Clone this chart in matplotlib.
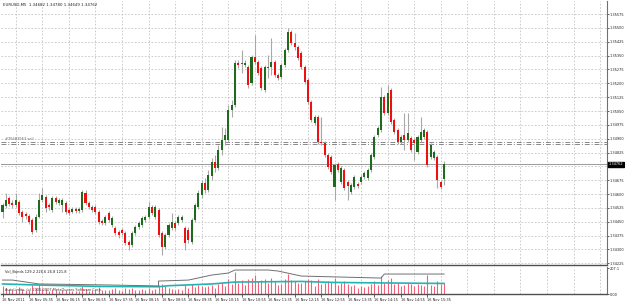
import matplotlib
matplotlib.use("Agg")
import matplotlib.pyplot as plt
from matplotlib.transforms import blended_transform_factory

# header / labels
symbol_title = "EURUSD,M5  1.34682 1.34780 1.34649 1.34762"
vol_title = "Vol_Bands 129.2 226.6 26.8 121.8"
vol_footer = "AutoLimits, (c) 2005-2007 MetaQuotes Software Corp."
order_label = "#76683953 sell"

# M5 candles, 16 Nov 2011
opens = [1.34503, 1.34535, 1.34579, 1.34552, 1.34541, 1.34557, 1.34503, 1.34492, 1.34481, 1.34460,
         1.34406, 1.34476, 1.34568, 1.34584, 1.34541, 1.34514, 1.34579, 1.34552, 1.34541, 1.34552,
         1.34514, 1.34503, 1.34519, 1.34508, 1.34514, 1.34606, 1.34552, 1.34530, 1.34530, 1.34503,
         1.34454, 1.34443, 1.34498, 1.34432, 1.34416, 1.34395, 1.34406, 1.34389, 1.34341, 1.34324,
         1.34389, 1.34422, 1.34432, 1.34460, 1.34476, 1.34530, 1.34476, 1.34514, 1.34389, 1.34313,
         1.34378, 1.34416, 1.34443, 1.34443, 1.34460, 1.34416, 1.34406, 1.34341, 1.34460, 1.34530,
         1.34595, 1.34660, 1.34622, 1.34698, 1.34774, 1.34741, 1.34839, 1.34893, 1.34893, 1.35055,
         1.35082, 1.35310, 1.35310, 1.35299, 1.35288, 1.35202, 1.35342, 1.35315, 1.35283, 1.35164,
         1.35288, 1.35288, 1.35315, 1.35245, 1.35234, 1.35299, 1.35380, 1.35478, 1.35418, 1.35396,
         1.35364, 1.35288, 1.35218, 1.35099, 1.34985, 1.35017, 1.34882, 1.34877, 1.34812, 1.34801,
         1.34638, 1.34763, 1.34666, 1.34730, 1.34666, 1.34611, 1.34638, 1.34655, 1.34666, 1.34693,
         1.34687, 1.34730, 1.34801, 1.34920, 1.34947, 1.35126, 1.35039, 1.35164, 1.35001, 1.34947,
         1.34882, 1.34920, 1.34893, 1.34904, 1.34893, 1.34828, 1.34893, 1.34909, 1.34936, 1.34801,
         1.34795, 1.34801, 1.34666, 1.34682]
highs = [1.34552, 1.34606, 1.34590, 1.34568, 1.34606, 1.34568, 1.34514, 1.34503, 1.34492, 1.34470,
         1.34492, 1.34606, 1.34633, 1.34595, 1.34552, 1.34590, 1.34590, 1.34579, 1.34579, 1.34563,
         1.34525, 1.34530, 1.34530, 1.34530, 1.34622, 1.34622, 1.34563, 1.34541, 1.34541, 1.34514,
         1.34465, 1.34487, 1.34508, 1.34481, 1.34427, 1.34406, 1.34416, 1.34400, 1.34351, 1.34400,
         1.34432, 1.34454, 1.34481, 1.34487, 1.34557, 1.34541, 1.34541, 1.34525, 1.34400, 1.34389,
         1.34443, 1.34498, 1.34454, 1.34487, 1.34487, 1.34427, 1.34422, 1.34470, 1.34552, 1.34622,
         1.34676, 1.34687, 1.34730, 1.34795, 1.34812, 1.34866, 1.34963, 1.34958, 1.35082, 1.35110,
         1.35326, 1.35326, 1.35380, 1.35326, 1.35299, 1.35353, 1.35461, 1.35326, 1.35294, 1.35299,
         1.35353, 1.35445, 1.35326, 1.35256, 1.35310, 1.35391, 1.35499, 1.35489, 1.35472, 1.35407,
         1.35375, 1.35299, 1.35229, 1.35110, 1.35028, 1.35028, 1.35017, 1.34888, 1.34823, 1.34812,
         1.34768, 1.34774, 1.34752, 1.34741, 1.34676, 1.34660, 1.34703, 1.34666, 1.34703, 1.34725,
         1.34741, 1.34823, 1.34920, 1.34969, 1.35180, 1.35137, 1.35191, 1.35174, 1.35012, 1.34958,
         1.34920, 1.35039, 1.35039, 1.34915, 1.34904, 1.34920, 1.35017, 1.34958, 1.34947, 1.34877,
         1.34839, 1.34812, 1.34676, 1.34780]
lows = [1.34470, 1.34525, 1.34535, 1.34525, 1.34530, 1.34487, 1.34449, 1.34465, 1.34438, 1.34384,
        1.34395, 1.34470, 1.34557, 1.34503, 1.34514, 1.34503, 1.34546, 1.34541, 1.34503, 1.34492,
        1.34487, 1.34498, 1.34498, 1.34498, 1.34503, 1.34541, 1.34519, 1.34503, 1.34492, 1.34438,
        1.34432, 1.34432, 1.34449, 1.34422, 1.34378, 1.34362, 1.34378, 1.34324, 1.34297, 1.34313,
        1.34378, 1.34411, 1.34422, 1.34449, 1.34465, 1.34487, 1.34465, 1.34368, 1.34270, 1.34303,
        1.34368, 1.34406, 1.34406, 1.34432, 1.34449, 1.34297, 1.34335, 1.34330, 1.34449, 1.34519,
        1.34579, 1.34606, 1.34611, 1.34676, 1.34720, 1.34730, 1.34812, 1.34866, 1.34882, 1.35017,
        1.35072, 1.35283, 1.35256, 1.35288, 1.35174, 1.35191, 1.35304, 1.35245, 1.35164, 1.35153,
        1.35229, 1.35245, 1.35234, 1.35218, 1.35223, 1.35288, 1.35369, 1.35407, 1.35380, 1.35326,
        1.35277, 1.35196, 1.35088, 1.34990, 1.34974, 1.34871, 1.34866, 1.34801, 1.34736, 1.34709,
        1.34568, 1.34720, 1.34655, 1.34622, 1.34568, 1.34600, 1.34628, 1.34633, 1.34655, 1.34682,
        1.34676, 1.34720, 1.34790, 1.34909, 1.34936, 1.35028, 1.35028, 1.34980, 1.34925, 1.34871,
        1.34871, 1.34839, 1.34882, 1.34828, 1.34785, 1.34817, 1.34882, 1.34898, 1.34747, 1.34790,
        1.34785, 1.34633, 1.34628, 1.34649]
closes = [1.34541, 1.34568, 1.34546, 1.34541, 1.34568, 1.34498, 1.34476, 1.34481, 1.34449, 1.34395,
          1.34476, 1.34568, 1.34595, 1.34525, 1.34530, 1.34579, 1.34557, 1.34568, 1.34568, 1.34503,
          1.34498, 1.34519, 1.34508, 1.34519, 1.34611, 1.34552, 1.34530, 1.34514, 1.34503, 1.34449,
          1.34443, 1.34476, 1.34460, 1.34470, 1.34389, 1.34378, 1.34389, 1.34335, 1.34324, 1.34389,
          1.34422, 1.34443, 1.34470, 1.34476, 1.34530, 1.34498, 1.34530, 1.34378, 1.34313, 1.34378,
          1.34432, 1.34449, 1.34416, 1.34476, 1.34476, 1.34335, 1.34351, 1.34460, 1.34541, 1.34606,
          1.34660, 1.34622, 1.34703, 1.34774, 1.34741, 1.34839, 1.34893, 1.34920, 1.35055, 1.35082,
          1.35310, 1.35299, 1.35304, 1.35310, 1.35191, 1.35342, 1.35315, 1.35256, 1.35174, 1.35288,
          1.35283, 1.35315, 1.35245, 1.35229, 1.35299, 1.35380, 1.35478, 1.35418, 1.35396, 1.35337,
          1.35288, 1.35207, 1.35099, 1.35001, 1.35017, 1.34882, 1.34877, 1.34812, 1.34747, 1.34720,
          1.34758, 1.34730, 1.34741, 1.34633, 1.34644, 1.34649, 1.34693, 1.34644, 1.34693, 1.34714,
          1.34730, 1.34812, 1.34909, 1.34958, 1.35126, 1.35039, 1.35147, 1.34990, 1.34936, 1.34882,
          1.34909, 1.34893, 1.34931, 1.34839, 1.34877, 1.34909, 1.34936, 1.34947, 1.34758, 1.34866,
          1.34828, 1.34676, 1.34638, 1.34762]
volumes = [60, 45, 40, 30, 35, 55, 40, 30, 35, 70,
           50, 75, 45, 40, 25, 40, 30, 25, 30, 35,
           25, 20, 20, 25, 65, 40, 25, 30, 30, 55,
           30, 35, 30, 40, 45, 30, 25, 50, 40, 45,
           35, 30, 40, 30, 50, 35, 40, 75, 80, 60,
           50, 40, 35, 40, 30, 70, 45, 80, 55, 70,
           60, 55, 65, 75, 50, 80, 90, 60, 120, 80,
           175, 90, 110, 70, 120, 130, 150, 100, 110, 120,
           90, 130, 100, 70, 80, 120, 160, 110, 100, 90,
           90, 100, 120, 110, 60, 120, 80, 90, 100, 95,
           130, 70, 90, 100, 80, 60, 70, 50, 60, 55,
           60, 80, 100, 70, 140, 90, 110, 130, 80, 90,
           60, 70, 90, 80, 60, 80, 70, 60, 150, 70,
           60, 100, 80, 90]

# Vol_Bands lines, vertices (bar index, value)
upper_bars = [0, 3, 11, 32, 47, 47, 56, 63, 68, 70, 80, 83, 90, 114, 115, 133]
upper_vals = [111, 111, 80, 72, 64, 103, 111, 151, 167, 191, 191, 183, 143, 127, 159, 159]
mean_bars = [0, 10, 30, 47, 50, 63, 70, 90, 100, 115, 133]
mean_vals = [80, 72, 60, 58, 66, 80, 95, 100, 92, 88, 84]
vol_max = 207.1

price_ticks = [1.35575, 1.35500, 1.35425, 1.35350, 1.35275, 1.35200, 1.35125, 1.35050, 1.34975,
               1.34900, 1.34825, 1.34750, 1.34675, 1.34600, 1.34525, 1.34450, 1.34375, 1.34300,
               1.34225]
order_prices = [1.34884, 1.34871]
time_labels = ["16 Nov 2011", "16 Nov 05:35", "16 Nov 06:15", "16 Nov 06:55", "16 Nov 07:35",
               "16 Nov 08:15", "16 Nov 08:55", "16 Nov 09:35", "16 Nov 10:15", "16 Nov 10:55",
               "16 Nov 11:35", "16 Nov 12:15", "16 Nov 12:55", "16 Nov 13:35", "16 Nov 14:15",
               "16 Nov 14:55", "16 Nov 15:35"]

W, H = 625, 303
BULL = "#1e6b1e"
BEAR = "#ee1010"
WICK = "#a8a8a8"
GRID = "#c4c4c4"
FS = 2.5


def fx(px):
    return px / W


def fy(py):
    return 1 - py / H


fig = plt.figure(figsize=(W / 100, H / 100), dpi=100)
fig.patch.set_facecolor("white")

ax = fig.add_axes([fx(1), fy(265), fx(607) - fx(1), fy(1) - fy(265)])
ax2 = fig.add_axes([fx(1), fy(294), fx(607) - fx(1), fy(267) - fy(294)])

n = len(closes)
xs = list(range(n))
px_per_bar = 3.32
x0 = -(2.5 - 1) / px_per_bar
x1 = (607 - 2.5) / px_per_bar

grid_x = [4 + 8 * k for k in range(23)]
for a in (ax, ax2):
    a.set_xlim(x0, x1)
    a.set_facecolor("white")
    for gx in grid_x:
        a.axvline(gx, color=GRID, lw=0.6, ls=(0, (2, 2)), zorder=0)
    for s in ("left", "top"):
        a.spines[s].set_visible(False)
    a.spines["right"].set_color("#707070")
    a.spines["right"].set_linewidth(0.8)
    a.spines["bottom"].set_color("#505050")
    a.spines["bottom"].set_linewidth(1.0)

# main price chart
ax.set_ylim(1.34216, 1.35646)
for p in price_ticks:
    ax.axhline(p, color=GRID, lw=0.6, ls=(0, (2, 2)), zorder=0)

ax.vlines(xs, lows, highs, color=WICK, lw=0.8, zorder=2)
bodies_b = [abs(c - o) if abs(c - o) > 0.00003 else 0.00003 for o, c in zip(opens, closes)]
bottoms = [min(o, c) for o, c in zip(opens, closes)]
colors = [BULL if c >= o else BEAR for o, c in zip(opens, closes)]
ax.bar(xs, bodies_b, bottom=bottoms, width=0.62, color=colors, linewidth=0, zorder=3)

for p in order_prices:
    ax.axhline(p, color="#888888", lw=0.7, ls=(0, (5, 2, 1, 2)), zorder=1)
ax.text(0.8, order_prices[0] + 0.00004, order_label, fontsize=2.6, color="#666666",
        va="bottom", ha="left")
ax.axhline(closes[-1], color="#9a9a9a", lw=0.7, zorder=1)

ax.yaxis.tick_right()
ax.set_yticks(price_ticks)
ax.set_yticklabels(["%.5f" % p for p in price_ticks])
ax.tick_params(axis="y", labelsize=FS, length=1.5, width=0.5, pad=0.6, colors="#202020")
ax.set_xticks([])

tr = blended_transform_factory(ax.transAxes, ax.transData)
ax.text(1.003, closes[-1], "%.5f" % closes[-1], transform=tr, fontsize=FS, color="white",
        va="center", ha="left", zorder=10, clip_on=False,
        bbox=dict(boxstyle="square,pad=0.2", fc="black", ec="black"))

fig.text(fx(3), fy(5), symbol_title, fontsize=2.8, color="#202020", va="center", ha="left")

# volume window
ax2.set_ylim(0, vol_max * 27 / 26)
ax2.vlines(xs, 0, volumes, color="#f4607a", lw=0.8, zorder=2)
ax2.plot(mean_bars, mean_vals, color="#22b5b0", lw=1.2, zorder=3)
ax2.plot(upper_bars, upper_vals, color="#707070", lw=0.7, zorder=3)
ax2.yaxis.tick_right()
ax2.set_yticks([vol_max, 0])
ax2.set_yticklabels(["%.1f" % vol_max, "0.00"])
ax2.tick_params(axis="y", labelsize=FS, length=1.5, width=0.5, pad=0.6, colors="#202020")
ax2.set_xticks(list(range(0, 8 * len(time_labels), 8)))
ax2.set_xticklabels(time_labels, ha="left")
ax2.tick_params(axis="x", labelsize=FS, length=2, width=0.5, pad=0.8, colors="#202020")
ax2.text(0.8, vol_max * 0.95, vol_title, fontsize=2.6, color="#202020", va="top", ha="left")
ax2.text(0.8, vol_max * 0.06, vol_footer, fontsize=2.5, color="#404040", va="bottom", ha="left")

fig.savefig("out.png", dpi=100)
